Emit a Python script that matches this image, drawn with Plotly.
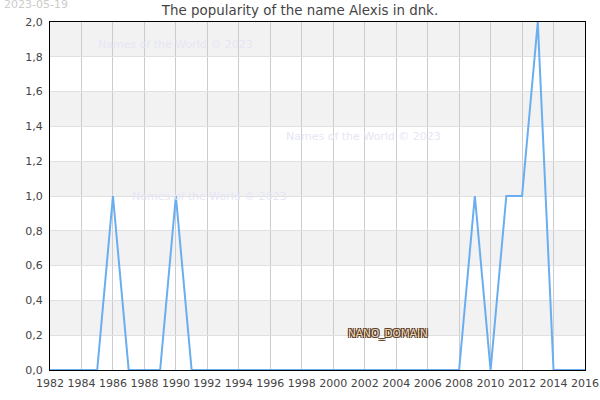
import plotly.graph_objects as go

years = list(range(1982, 2017))
values = [0, 0, 0, 0, 1, 0, 0, 0, 1, 0,
          0, 0, 0, 0, 0, 0, 0, 0, 0, 0,
          0, 0, 0, 0, 0, 0, 0, 1, 0, 1,
          1, 2, 0, 0, 0]
x_ticks = list(range(1982, 2017, 2))
y_ticks = [0.0, 0.2, 0.4, 0.6, 0.8, 1.0, 1.2, 1.4, 1.6, 1.8, 2.0]
y_tick_labels = [f"{v:.1f}".replace(".", ",") for v in y_ticks]
title_text = "The popularity of the name Alexis in dnk."
date_text = "2023-05-19"
watermark = "Names of the World © 2023"

font_family = "DejaVu Sans, sans-serif"

fig = go.Figure()
fig.add_trace(go.Scatter(x=years, y=values, mode="lines",
                         line=dict(color="#6aaef0", width=2),
                         hoverinfo="x+y", showlegend=False))

# alternating bands between y ticks
shapes = []
for i in range(len(y_ticks) - 1):
    if i % 2 == 1:
        shapes.append(dict(type="rect", xref="paper", yref="y", x0=0, x1=1,
                           y0=y_ticks[i], y1=y_ticks[i + 1],
                           fillcolor="#f2f2f2", line=dict(width=0), layer="below"))

annotations = [
    dict(text=date_text, xref="paper", yref="paper", x=-0.0897, y=1.049,
         xanchor="left", yanchor="middle", showarrow=False,
         font=dict(family=font_family, size=11, color="#cccccc")),
    dict(text=watermark, xref="paper", yref="paper", x=0.086, y=0.935,
         xanchor="left", yanchor="middle", showarrow=False,
         font=dict(family=font_family, size=11, color="#e6e6f5")),
    dict(text=watermark, xref="paper", yref="paper", x=0.437, y=0.67,
         xanchor="left", yanchor="middle", showarrow=False,
         font=dict(family=font_family, size=11, color="#e6e6f5")),
    dict(text=watermark, xref="paper", yref="paper", x=0.149, y=0.50,
         xanchor="left", yanchor="middle", showarrow=False,
         font=dict(family=font_family, size=11, color="#e6e6f5")),
    dict(text="NANO_DOMAIN", xref="paper", yref="paper", x=0.553, y=0.105,
         xanchor="left", yanchor="middle", showarrow=False,
         font=dict(family=font_family, size=10.5, color="#e8d8c0",
                   shadow="-1px -1px 0 #5a3a1a, 1px -1px 0 #5a3a1a, -1px 1px 0 #5a3a1a, 1px 1px 0 #5a3a1a")),
]

fig.update_layout(
    width=600, height=400,
    margin=dict(l=50, r=15, t=22, b=30, autoexpand=False),
    paper_bgcolor="white", plot_bgcolor="white",
    title=dict(text=title_text, x=0.5, xanchor="center", y=0.973, yanchor="middle",
               font=dict(family=font_family, size=13.4, color="#444444")),
    font=dict(family=font_family, size=11, color="#444444"),
    shapes=shapes, annotations=annotations,
    xaxis=dict(range=[1982, 2016], tickmode="array", tickvals=x_ticks,
               ticktext=[str(t) for t in x_ticks], automargin=False,
               ticklabelstandoff=3,
               showgrid=True, gridcolor="#cccccc", gridwidth=1,
               showline=True, linecolor="black", linewidth=1, mirror=True,
               zeroline=False, ticks="", tickfont=dict(size=11, color="#444444")),
    yaxis=dict(range=[0, 2.0], tickmode="array", tickvals=y_ticks,
               ticktext=y_tick_labels, automargin=False,
               ticklabelstandoff=4,
               showgrid=True, gridcolor="#e0e0e0", gridwidth=1,
               showline=True, linecolor="black", linewidth=1, mirror=True,
               zeroline=False, ticks="", tickfont=dict(size=11, color="#444444")),
)

fig.write_html("out.html", config={"displayModeBar": False},
               post_script="document.body.style.margin='0';document.body.style.padding='0';")
